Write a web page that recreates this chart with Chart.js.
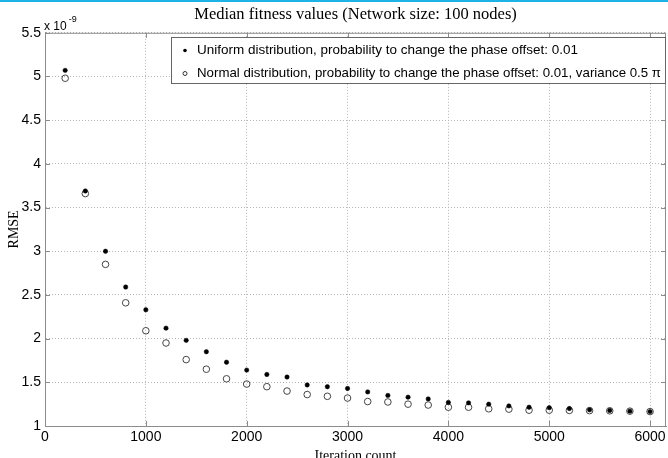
<!DOCTYPE html>
<html>
<head>
<meta charset="utf-8">
<script src="https://cdn.jsdelivr.net/npm/chart.js@4.4.1/dist/chart.umd.min.js"></script>
<style>
  html, body { margin: 0; padding: 0; background: #fff; overflow: hidden; }
  #wrap { position: relative; width: 668px; height: 458px; overflow: hidden; }
  #band { position: absolute; left: 0; top: 0; width: 668px; height: 2px; background: #1cb3e6; z-index: 2; }
  canvas { display: block; }
</style>
</head>
<body>
<div id="wrap">
  <div id="band"></div>
  <canvas id="c" width="671" height="470"></canvas>
</div>
<script>
const titleText = "Median fitness values (Network size: 100 nodes)";
const xLabel = "Iteration count";
const yLabel = "RMSE";
const legendLabels = [
  "Uniform distribution, probability to change the phase offset: 0.01",
  "Normal distribution, probability to change the phase offset: 0.01, variance 0.5 \u03c0"
];
const iterations = [200, 400, 600, 800, 1000, 1200, 1400, 1600, 1800, 2000,
                    2200, 2400, 2600, 2800, 3000, 3200, 3400, 3600, 3800, 4000,
                    4200, 4400, 4600, 4800, 5000, 5200, 5400, 5600, 5800, 6000];
const uniformRMSE = [5.07, 3.69, 3.00, 2.59, 2.33, 2.12, 1.98, 1.85, 1.73, 1.64,
                     1.59, 1.56, 1.47, 1.45, 1.43, 1.39, 1.35, 1.33, 1.31, 1.27,
                     1.265, 1.25, 1.23, 1.215, 1.21, 1.20, 1.185, 1.178, 1.17, 1.165];
const normalRMSE = [4.98, 3.66, 2.85, 2.41, 2.09, 1.95, 1.76, 1.65, 1.54, 1.48,
                    1.45, 1.40, 1.36, 1.34, 1.32, 1.28, 1.275, 1.25, 1.24, 1.215,
                    1.215, 1.197, 1.193, 1.181, 1.181, 1.178, 1.176, 1.174, 1.17, 1.165];
const xTicks = [0, 1000, 2000, 3000, 4000, 5000, 6000];
const yTicks = [1, 1.5, 2, 2.5, 3, 3.5, 4, 4.5, 5, 5.5];
const yExponent = "-9";

const SANS = "'Liberation Sans', Arial, sans-serif";
const SERIF = "'Liberation Serif', 'Times New Roman', serif";
const AXIS_GRAY = '#8c8c8c';

const toPts = (ys) => iterations.map((x, i) => ({ x: x, y: ys[i] }));

const extras = {
  id: 'extras',
  beforeDatasetsDraw(chart) {
    const { ctx, chartArea: a, scales } = chart;
    ctx.save();
    ctx.strokeStyle = AXIS_GRAY;
    ctx.lineWidth = 1;
    ctx.beginPath();
    ctx.moveTo(a.left, a.top + 0.5); ctx.lineTo(a.right, a.top + 0.5);
    ctx.moveTo(a.right - 0.5, a.top); ctx.lineTo(a.right - 0.5, a.bottom);
    ctx.stroke();
    const L = 5;
    ctx.beginPath();
    xTicks.forEach(v => {
      const px = Math.round(scales.x.getPixelForValue(v)) + 0.5;
      ctx.moveTo(px, a.bottom); ctx.lineTo(px, a.bottom - L);
      ctx.moveTo(px, a.top); ctx.lineTo(px, a.top + L);
    });
    yTicks.forEach(v => {
      const py = Math.round(scales.y.getPixelForValue(v)) + 0.5;
      ctx.moveTo(a.left, py); ctx.lineTo(a.left + L, py);
      ctx.moveTo(a.right, py); ctx.lineTo(a.right - L, py);
    });
    ctx.stroke();
    ctx.fillStyle = '#000';
    ctx.textBaseline = 'alphabetic';
    ctx.textAlign = 'left';
    ctx.font = "12px " + SANS;
    ctx.fillText("x 10", a.left - 1, a.top - 3);
    const w = ctx.measureText("x 10").width;
    ctx.font = "9px " + SANS;
    ctx.fillText(yExponent, a.left + w + 1, a.top - 11);
    ctx.restore();
  },
  afterDatasetsDraw(chart) {
    const { ctx, chartArea: a } = chart;
    ctx.save();
    const bx = 171, by = 37, bw = a.right - 1 - bx, bh = 46;
    ctx.fillStyle = '#fff';
    ctx.fillRect(bx, by, bw, bh);
    ctx.strokeStyle = '#666';
    ctx.lineWidth = 1;
    ctx.strokeRect(bx + 0.5, by + 0.5, bw, bh);
    ctx.font = "13px " + SANS;
    ctx.fillStyle = '#000';
    ctx.textBaseline = 'middle';
    ctx.textAlign = 'left';
    const rows = [by + 13.5, by + 36.5];
    chart.data.datasets.forEach((ds, i) => {
      const y = rows[i];
      ctx.beginPath();
      if (i === 0) {
        ctx.arc(185, y, 1.8, 0, Math.PI * 2);
        ctx.fillStyle = '#000';
        ctx.fill();
      } else {
        ctx.arc(185, y, 2, 0, Math.PI * 2);
        ctx.strokeStyle = '#333';
        ctx.stroke();
      }
      ctx.fillStyle = '#000';
      const t = ds.label;
      const target = i === 0 ? 381 : 464;
      const mw = ctx.measureText(t).width;
      ctx.save();
      ctx.translate(197, y);
      ctx.scale(target / mw, 1);
      ctx.fillText(t, 0, 0);
      ctx.restore();
    });
    ctx.restore();
  }
};

new Chart(document.getElementById('c'), {
  type: 'scatter',
  data: {
    datasets: [
      {
        label: legendLabels[0],
        data: toPts(uniformRMSE),
        pointRadius: 2.2,
        pointBackgroundColor: '#000',
        pointBorderColor: '#000',
        pointBorderWidth: 0.5,
        showLine: false
      },
      {
        label: legendLabels[1],
        data: toPts(normalRMSE),
        pointRadius: 3.3,
        pointBackgroundColor: 'rgba(255,255,255,0)',
        pointBorderColor: '#444',
        pointBorderWidth: 1,
        showLine: false
      }
    ]
  },
  options: {
    responsive: false,
    animation: false,
    events: [],
    layout: { padding: { left: 0, right: 0, top: 0, bottom: 0 } },
    plugins: {
      legend: { display: false },
      tooltip: { enabled: false },
      title: {
        display: true,
        fullSize: false,
        text: titleText,
        color: '#000',
        font: { family: SERIF, size: 16.5, weight: 'normal' },
        padding: { top: 5, bottom: 8 }
      }
    },
    scales: {
      x: {
        type: 'linear',
        min: 0,
        max: 6158,
        afterBuildTicks: (s) => { s.ticks = xTicks.map(v => ({ value: v })); },
        afterFit: (s) => { s.height = 44; s.paddingRight = 0; s.paddingLeft = 0; },
        ticks: {
          color: '#000',
          font: { family: SANS, size: 14 },
          padding: 3,
          maxRotation: 0,
          autoSkip: false,
          callback: (v) => String(v)
        },
        grid: { color: '#b5b5b5', drawTicks: false, lineWidth: 1 },
        border: { color: AXIS_GRAY, dash: [1, 2], width: 1 },
        title: {
          display: true,
          text: xLabel,
          color: '#000',
          font: { family: SERIF, size: 14 },
          padding: { top: 0, bottom: 5 }
        }
      },
      y: {
        type: 'linear',
        min: 1,
        max: 5.5,
        afterBuildTicks: (s) => { s.ticks = yTicks.map(v => ({ value: v })); },
        afterFit: (s) => { s.width = 45; },
        ticks: {
          color: '#000',
          font: { family: SANS, size: 14 },
          padding: 4,
          autoSkip: false,
          callback: (v) => String(v)
        },
        grid: { color: '#b5b5b5', drawTicks: false, lineWidth: 1 },
        border: { color: AXIS_GRAY, dash: [1, 2], width: 1 },
        title: {
          display: true,
          text: yLabel,
          color: '#000',
          font: { family: SERIF, size: 14 },
          padding: { top: 6, bottom: 0 }
        }
      }
    }
  },
  plugins: [extras]
});
</script>
</body>
</html>
